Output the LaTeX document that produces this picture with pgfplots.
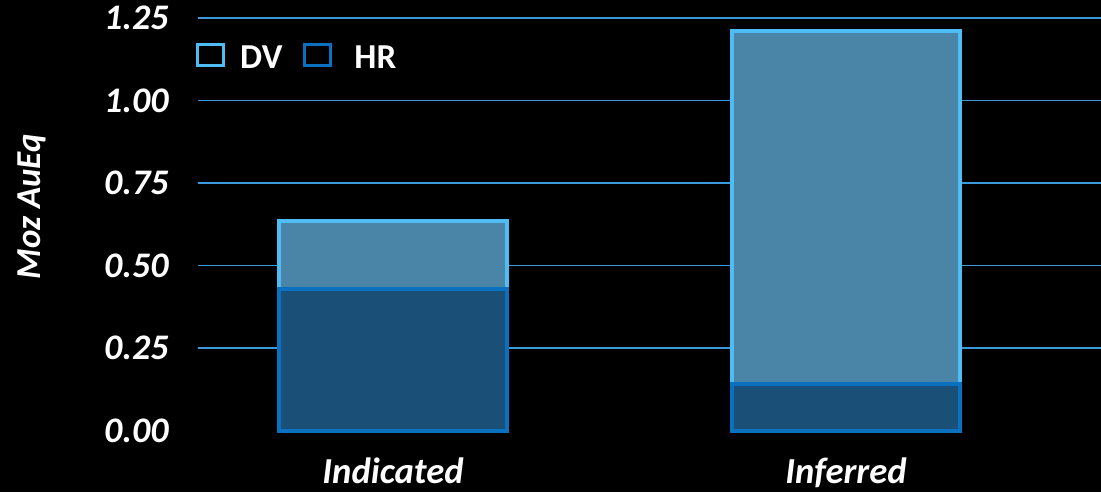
\documentclass[border=0pt]{standalone}
\usepackage{pgfplots}
\pgfplotsset{compat=1.18}
\usepackage{fontspec}
\setmainfont{Carlito}
\definecolor{dvfill}{HTML}{4A84A6}
\definecolor{dvedge}{HTML}{4FBDF5}
\definecolor{hrfill}{HTML}{1A4F78}
\definecolor{hredge}{HTML}{0A70C0}
\definecolor{gridblue}{HTML}{3A9AD9}
\begin{document}
\begin{tikzpicture}
\fill[black] (-99pt,-30.75pt) rectangle (451.5pt,215.25pt);
\begin{axis}[
  at={(0pt,0pt)}, anchor=south west,
  scale only axis, width=451.5pt, height=206.25pt,
  xmin=-0.4305, xmax=1.563, ymin=0, ymax=1.25,
  ybar stacked, bar width=114pt,
  clip=false,
  axis line style={draw=none},
  major tick length=0pt, tick style={draw=none},
  xtick={0,1}, xticklabels={Indicated,Inferred},
  ytick={0.25,0.5,0.75,1,1.25}, yticklabels={0.25,0.50,0.75,1.00,1.25},
  extra y ticks={0}, extra y tick labels={0.00}, extra y tick style={grid=none},
  ymajorgrids, grid style={draw=gridblue, line width=0.9pt},
  yticklabel style={font=\fontsize{18}{20}\selectfont\bfseries\itshape, text=white, anchor=east, inner sep=0pt, xshift=-14.5pt},
  xticklabel style={font=\fontsize{18.3}{20}\selectfont\bfseries\itshape, text=white, anchor=base, inner sep=0pt, yshift=-26.5pt},
  ylabel={Moz AuEq},
  ylabel style={font=\fontsize{17.5}{20}\selectfont\bfseries\itshape, text=white, at={(axis description cs:-0.1838,0.542)}, anchor=center},
  legend style={at={(axis description cs:-0.002,0.905)}, anchor=west, draw=none, fill=none, inner sep=0pt, outer sep=0pt, text=white, font=\fontsize{17.5}{20}\selectfont\bfseries, column sep=7.5pt, nodes={inner sep=0pt}},
  legend columns=-1,
]
\addplot[fill=hrfill, draw=hredge, line width=2pt, forget plot] coordinates {(0,0.43) (1,0.14)};
\addplot[fill=dvfill, draw=dvedge, line width=2pt, forget plot] coordinates {(0,0.205) (1,1.07)};
\addlegendimage{legend image code/.code={\draw[draw=dvedge, line width=1.5pt] (0pt,-3.5pt) rectangle (13pt,7pt);}}
\addlegendentry{DV\kern3pt\null}
\addlegendimage{legend image code/.code={\draw[draw=hredge, line width=1.5pt] (0pt,-3.5pt) rectangle (13pt,7pt);}}
\addlegendentry{\hspace{3.5pt}HR}
\end{axis}
\pgfresetboundingbox
\path (-99pt,-30.75pt) rectangle (451.5pt,215.25pt);
\end{tikzpicture}
\end{document}
